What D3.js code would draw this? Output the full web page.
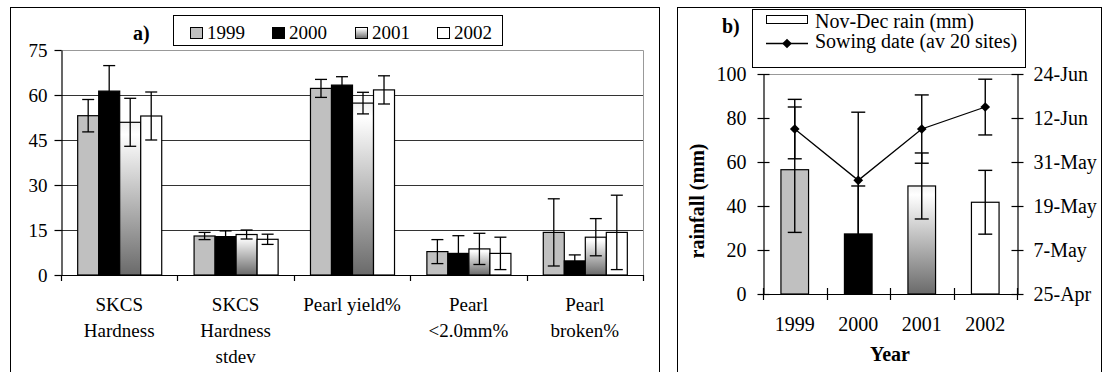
<!DOCTYPE html>
<html><head><meta charset="utf-8">
<script src="https://cdn.jsdelivr.net/npm/d3@7"></script>
<style>
body{margin:0;background:#fff}
svg{display:block}
text{font-family:"Liberation Serif","Times New Roman",serif;fill:#000}
</style>
</head><body>
<svg id="c" width="1106" height="372"></svg>
<script>
// ---------- Panel a data ----------
const categories = ["SKCS\nHardness", "SKCS\nHardness\nstdev", "Pearl yield%", "Pearl\n<2.0mm%", "Pearl\nbroken%"];
const years = ["1999", "2000", "2001", "2002"];
const mean1999 = [53.1, 13.0, 62.2, 7.8, 14.2];
const err1999  = [5.4, 1.2, 3.0, 4.0, 11.2];
const mean2000 = [61.3, 12.8, 63.3, 7.2, 4.7];
const err2000  = [8.5, 1.9, 2.8, 5.9, 2.0];
const mean2001 = [50.9, 13.5, 57.3, 8.7, 12.6];
const err2001  = [8.0, 1.5, 3.6, 5.2, 6.2];
const mean2002 = [53.0, 11.9, 61.7, 7.2, 14.2];
const err2002  = [8.0, 1.7, 4.7, 5.4, 12.4];
const yTicksA = [0, 15, 30, 45, 60, 75];

// ---------- Panel b data ----------
const rainYears = ["1999", "2000", "2001", "2002"];
const rainMm    = [56.5, 27.3, 49.1, 41.7];
const rainErr   = [28.5, 21.8, 15.0, 14.5];
const sowingDate = ["9-Jun", "26-May", "9-Jun", "15-Jun"];
const sowingErrDays = [8.1, 18.6, 9.3, 7.6];
const yTicksB = [0, 20, 40, 60, 80, 100];
const dateTicksB = ["25-Apr", "7-May", "19-May", "31-May", "12-Jun", "24-Jun"];

const fills = {"1999": "#c0c0c0", "2000": "#000000", "2001": "url(#g2001)", "2002": "#ffffff"};
const svg = d3.select("#c");
const defs = svg.append("defs");
const grad = defs.append("linearGradient").attr("id", "g2001")
  .attr("x1", 0).attr("y1", 0).attr("x2", 0).attr("y2", 1);
grad.append("stop").attr("offset", "0%").attr("stop-color", "#f2f2f2");
grad.append("stop").attr("offset", "8%").attr("stop-color", "#ffffff");
grad.append("stop").attr("offset", "100%").attr("stop-color", "#6a6a6a");

// panel frames
svg.append("rect").attr("x", 10.5).attr("y", 7.5).attr("width", 649).attr("height", 400)
  .attr("fill", "none").attr("stroke", "#000").attr("stroke-width", 1);
svg.append("rect").attr("x", 677.5).attr("y", 7.5).attr("width", 424).attr("height", 400)
  .attr("fill", "none").attr("stroke", "#000").attr("stroke-width", 1);

// ================= Panel a =================
(function () {
  const L = 61, R = 643, T = 50, B = 275;
  const series = [
    {year: "1999", m: mean1999, e: err1999},
    {year: "2000", m: mean2000, e: err2000},
    {year: "2001", m: mean2001, e: err2001},
    {year: "2002", m: mean2002, e: err2002}
  ];
  const p = 0.278;
  const x0 = d3.scaleBand().domain(categories).range([L, R]).paddingInner(p).paddingOuter(p / 2);
  const x1 = d3.scaleBand().domain(years).range([0, x0.bandwidth()]).padding(0);
  const y = d3.scaleLinear().domain([0, 75]).range([B, T]);
  const g = svg.append("g");

  // gridlines
  g.selectAll("line.grid").data(yTicksA.filter(v => v > 0 && v < 75)).join("line")
    .attr("x1", L).attr("x2", R).attr("y1", d => Math.round(y(d)) + 0.5).attr("y2", d => Math.round(y(d)) + 0.5)
    .attr("stroke", "#333").attr("stroke-width", 1);
  // plot border top/right
  g.append("path").attr("d", `M${L},${T + 0.5}H${R + 0.5}V${B}`)
    .attr("fill", "none").attr("stroke", "#999").attr("stroke-width", 1);

  // bars
  const flat = [];
  series.forEach(s => categories.forEach((c, i) => flat.push({year: s.year, cat: c, m: s.m[i], e: s.e[i]})));
  g.selectAll("rect.bar").data(flat).join("rect")
    .attr("x", d => x0(d.cat) + x1(d.year) + 0.5)
    .attr("width", x1.bandwidth())
    .attr("y", d => y(d.m))
    .attr("height", d => y(0) - y(d.m))
    .attr("fill", d => fills[d.year]).attr("stroke", "#000").attr("stroke-width", 1.2);

  // error bars
  const eb = g.selectAll("g.eb").data(flat).join("g")
    .attr("transform", d => `translate(${x0(d.cat) + x1(d.year) + x1.bandwidth() / 2 + 0.5},0)`);
  eb.append("line").attr("x1", 0).attr("x2", 0)
    .attr("y1", d => y(d.m + d.e)).attr("y2", d => y(Math.max(0, d.m - d.e)))
    .attr("stroke", "#000").attr("stroke-width", 1.3);
  eb.append("line").attr("x1", -6).attr("x2", 6)
    .attr("y1", d => y(d.m + d.e)).attr("y2", d => y(d.m + d.e))
    .attr("stroke", "#000").attr("stroke-width", 1.3);
  eb.append("line").attr("x1", -6).attr("x2", 6)
    .attr("y1", d => y(Math.max(0, d.m - d.e))).attr("y2", d => y(Math.max(0, d.m - d.e)))
    .attr("stroke", "#000").attr("stroke-width", 1.3);

  // y axis
  const ay = g.append("g").attr("transform", `translate(${L + 0.5},0)`)
    .call(d3.axisLeft(y).tickValues(yTicksA).tickSize(7).tickPadding(7).tickSizeOuter(0));
  ay.attr("font-family", null).attr("font-size", null);
  ay.selectAll("text").style("font-size", "19px");
  ay.selectAll("line,path").attr("stroke", "#000").attr("stroke-width", 1.2);

  // x axis
  g.append("line").attr("x1", L).attr("x2", R + 1).attr("y1", B + 0.5).attr("y2", B + 0.5)
    .attr("stroke", "#000").attr("stroke-width", 1.2);
  const bounds = categories.map(c => x0(c) - (x0.step() - x0.bandwidth()) / 2).concat([R]);
  g.selectAll("line.xt").data(bounds).join("line")
    .attr("x1", d => Math.round(d) + 0.5).attr("x2", d => Math.round(d) + 0.5)
    .attr("y1", B).attr("y2", B + 6).attr("stroke", "#000").attr("stroke-width", 1.2);
  const lab = g.selectAll("text.cat").data(categories).join("text")
    .attr("text-anchor", "middle").style("font-size", "19px")
    .attr("transform", d => `translate(${x0(d) + x0.bandwidth() / 2},${B + 36})`);
  lab.selectAll("tspan").data(d => d.split("\n")).join("tspan")
    .attr("x", 0).attr("y", (d, i) => i * 26).text(d => d);

  // title a)
  svg.append("text").attr("x", 133).attr("y", 40).style("font-size", "20px")
    .attr("font-weight", "bold").text("a)");

  // legend
  svg.append("rect").attr("x", 173.5).attr("y", 15.5).attr("width", 329).attr("height", 30)
    .attr("fill", "#fff").attr("stroke", "#000").attr("stroke-width", 1);
  const legX = [190, 272, 355, 437];
  const lg = svg.selectAll("g.lega").data(years).join("g")
    .attr("transform", (d, i) => `translate(${legX[i]},0)`);
  lg.append("rect").attr("x", 0.5).attr("y", 27.5).attr("width", 12).attr("height", 11)
    .attr("fill", d => fills[d]).attr("stroke", "#000").attr("stroke-width", 1);
  lg.append("text").attr("x", 17).attr("y", 39).style("font-size", "19px").text(d => d);
})();

// ================= Panel b =================
(function () {
  const L = 763, R = 1017, T = 74, B = 294;
  const parse = d3.timeParse("%d-%b-%Y");
  const pd = s => parse(s + "-2001");
  const x = d3.scaleBand().domain(rainYears).range([L, R]).paddingInner(0.565).paddingOuter(0.2825);
  const y = d3.scaleLinear().domain([0, 100]).range([B, T]);
  const yd = d3.scaleTime().domain([pd(dateTicksB[0]), pd(dateTicksB[dateTicksB.length - 1])]).range([B, T]);
  const g = svg.append("g");
  const cx = d => x(d) + x.bandwidth() / 2;

  // plot top border
  g.append("line").attr("x1", L).attr("x2", R).attr("y1", T + 0.5).attr("y2", T + 0.5)
    .attr("stroke", "#999").attr("stroke-width", 1);

  const rain = rainYears.map((yr, i) => ({year: yr, v: rainMm[i], e: rainErr[i]}));
  g.selectAll("rect.bar").data(rain).join("rect")
    .attr("x", d => x(d.year)).attr("width", x.bandwidth())
    .attr("y", d => y(d.v)).attr("height", d => y(0) - y(d.v))
    .attr("fill", d => fills[d.year]).attr("stroke", "#000").attr("stroke-width", 1.2);

  function errBars(data, top, bot, w) {
    const e = g.append("g").selectAll("g").data(data).join("g")
      .attr("transform", d => `translate(${cx(d.year)},0)`);
    e.append("line").attr("x1", 0).attr("x2", 0).attr("y1", top).attr("y2", bot)
      .attr("stroke", "#000").attr("stroke-width", 1.4);
    e.append("line").attr("x1", -w).attr("x2", w).attr("y1", top).attr("y2", top)
      .attr("stroke", "#000").attr("stroke-width", 1.4);
    e.append("line").attr("x1", -w).attr("x2", w).attr("y1", bot).attr("y2", bot)
      .attr("stroke", "#000").attr("stroke-width", 1.4);
  }
  errBars(rain, d => y(d.v + d.e), d => y(d.v - d.e), 7);

  const sow = rainYears.map((yr, i) => ({year: yr, d: pd(sowingDate[i]), e: sowingErrDays[i]}));
  errBars(sow, d => yd(d3.timeHour.offset(d.d, d.e * 24)), d => yd(d3.timeHour.offset(d.d, -d.e * 24)), 7);

  g.append("path").datum(sow)
    .attr("d", d3.line().x(d => cx(d.year)).y(d => yd(d.d)))
    .attr("fill", "none").attr("stroke", "#000").attr("stroke-width", 1.3);
  g.selectAll("path.mk").data(sow).join("path")
    .attr("d", d3.symbol(d3.symbolDiamond2, 60))
    .attr("transform", d => `translate(${cx(d.year)},${yd(d.d)})`)
    .attr("fill", "#000");

  // left axis
  const al = g.append("g").attr("transform", `translate(${L + 0.5},0)`)
    .call(d3.axisLeft(y).tickValues(yTicksB).tickSize(6).tickPadding(11).tickSizeOuter(0));
  al.attr("font-family", null).attr("font-size", null);
  al.selectAll(".tick line").attr("x1", 6).attr("x2", -6);
  al.selectAll("text").style("font-size", "20px");
  al.selectAll("line,path").attr("stroke", "#000").attr("stroke-width", 1.2);

  // right axis
  const ar = g.append("g").attr("transform", `translate(${R + 0.5},0)`)
    .call(d3.axisRight(yd).tickValues(dateTicksB.map(pd)).tickFormat(d3.timeFormat("%-d-%b"))
      .tickSize(6).tickPadding(10).tickSizeOuter(0));
  ar.attr("font-family", null).attr("font-size", null);
  ar.selectAll(".tick line").attr("x1", -6).attr("x2", 6);
  ar.selectAll("text").style("font-size", "20px");
  ar.selectAll("line,path").attr("stroke", "#000").attr("stroke-width", 1.2);

  // bottom axis
  g.append("line").attr("x1", L).attr("x2", R).attr("y1", B + 0.5).attr("y2", B + 0.5)
    .attr("stroke", "#000").attr("stroke-width", 1.2);
  const bounds = rainYears.map(c => x(c) - (x.step() - x.bandwidth()) / 2).concat([R]);
  g.selectAll("line.xt").data(bounds).join("line")
    .attr("x1", d => Math.round(d) + 0.5).attr("x2", d => Math.round(d) + 0.5)
    .attr("y1", B - 6).attr("y2", B + 6).attr("stroke", "#000").attr("stroke-width", 1.2);
  g.selectAll("text.yr").data(rainYears).join("text")
    .attr("x", d => cx(d)).attr("y", B + 37).attr("text-anchor", "middle")
    .style("font-size", "20px").text(d => d);

  // axis titles
  g.append("text").attr("x", (L + R) / 2).attr("y", 361).attr("text-anchor", "middle")
    .style("font-size", "20px").attr("font-weight", "bold").text("Year");
  g.append("text").attr("transform", `translate(704,201) rotate(-90)`).attr("text-anchor", "middle")
    .style("font-size", "20px").attr("font-weight", "bold").text("rainfall (mm)");

  // title b)
  svg.append("text").attr("x", 722).attr("y", 33).style("font-size", "20px")
    .attr("font-weight", "bold").text("b)");

  // legend
  svg.append("rect").attr("x", 752.5).attr("y", 9.5).attr("width", 273).attr("height", 58)
    .attr("fill", "#fff").attr("stroke", "#000").attr("stroke-width", 1);
  svg.append("rect").attr("x", 766.5).attr("y", 15.5).attr("width", 41).attr("height", 8)
    .attr("fill", "#fff").attr("stroke", "#000").attr("stroke-width", 1);
  svg.append("text").attr("x", 815).attr("y", 28).style("font-size", "20px").text("Nov-Dec rain (mm)");
  svg.append("line").attr("x1", 766).attr("x2", 808).attr("y1", 43.5).attr("y2", 43.5)
    .attr("stroke", "#000").attr("stroke-width", 1.3);
  svg.append("path").attr("d", d3.symbol(d3.symbolDiamond2, 60))
    .attr("transform", "translate(787,43.5)").attr("fill", "#000");
  svg.append("text").attr("x", 815).attr("y", 48).style("font-size", "20px").text("Sowing date (av 20 sites)");
})();
</script>
</body></html>
